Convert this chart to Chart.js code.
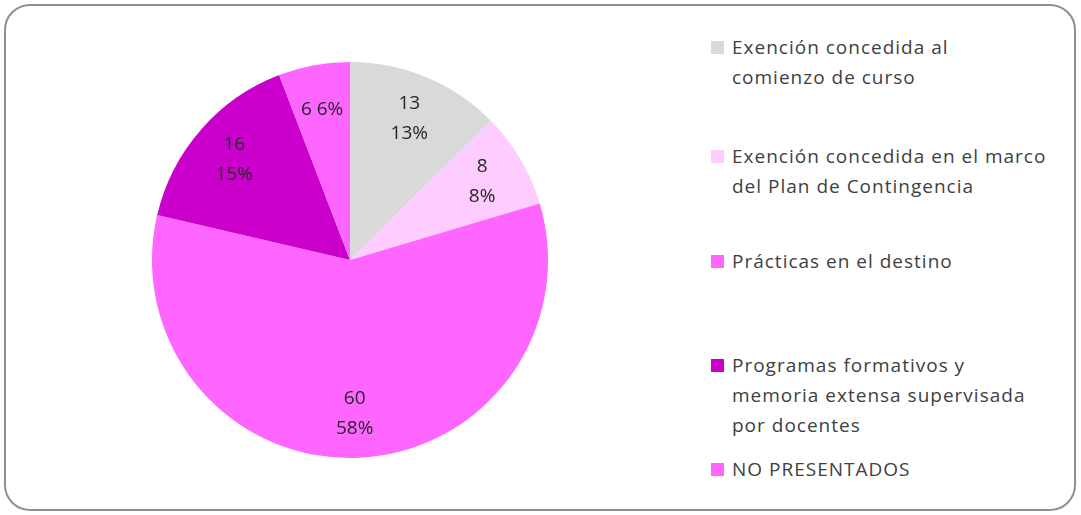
<!DOCTYPE html>
<html>
<head>
<meta charset="utf-8">
<script src="https://cdn.jsdelivr.net/npm/chart.js@4/dist/chart.umd.min.js"></script>
<style>
  html, body { margin: 0; padding: 0; background: #fff; }
  body { width: 1081px; height: 515px; position: relative; overflow: hidden; font-family: "Open Sans", "Liberation Sans", sans-serif; }
  .frame { position: absolute; left: 4px; top: 4px; width: 1072px; height: 507px; border: 2px solid #8f8f8f; border-radius: 26px; box-sizing: border-box; }
  .pie-wrap { position: absolute; left: 152px; top: 62px; width: 396px; height: 396px; }
  .legend { position: absolute; left: 711px; top: 0; }
  .legend-item { position: absolute; left: 0; white-space: nowrap; }
  .legend-item .sw { position: absolute; left: 0; width: 13px; height: 13px; }
  .legend-item .tx { position: absolute; left: 21px; font-size: 19px; line-height: 30px; color: #404040; letter-spacing: 1px; }
</style>
</head>
<body>
<div class="frame"></div>
<div class="pie-wrap"><canvas id="pieChart"></canvas></div>
<div class="legend" id="legend"></div>
<script>
const categories = [
  'Exención concedida al\ncomienzo de curso',
  'Exención concedida en el marco\ndel Plan de Contingencia',
  'Prácticas en el destino',
  'Programas formativos y\nmemoria extensa supervisada\npor docentes',
  'NO PRESENTADOS'
];
const values = [13, 8, 60, 16, 6];
const percentLabels = ['13%', '8%', '58%', '15%', '6%'];
const colors = ['#d9d9d9', '#ffccff', '#ff66ff', '#cc00cc', '#ff66ff'];
const legendTops = [32, 141, 246, 350, 454];

// value + percent inside each slice, at ~78% of the radius
const sliceLabels = {
  id: 'sliceLabels',
  afterDatasetsDraw(chart) {
    const ctx = chart.ctx;
    const meta = chart.getDatasetMeta(0);
    const total = values.reduce((a, b) => a + b, 0);
    ctx.save();
    ctx.font = '19px "Open Sans", "Liberation Sans", sans-serif';
    ctx.fillStyle = '#262626';
    ctx.textAlign = 'center';
    ctx.textBaseline = 'middle';
    meta.data.forEach((arc, i) => {
      const p = arc.getProps(['x', 'y', 'startAngle', 'endAngle', 'outerRadius'], true);
      const mid = (p.startAngle + p.endAngle) / 2;
      const r = p.outerRadius * 0.775;
      const x = p.x + Math.cos(mid) * r;
      const y = p.y + Math.sin(mid) * r;
      if (values[i] / total < 0.07) {
        ctx.fillText(values[i] + ' ' + percentLabels[i], x, y);
      } else {
        ctx.fillText(String(values[i]), x, y - 15);
        ctx.fillText(percentLabels[i], x, y + 15);
      }
    });
    ctx.restore();
  }
};

new Chart(document.getElementById('pieChart'), {
  type: 'pie',
  data: {
    labels: categories,
    datasets: [{ data: values, backgroundColor: colors, borderWidth: 0 }]
  },
  options: {
    responsive: true,
    maintainAspectRatio: false,
    animation: false,
    layout: { padding: 0 },
    plugins: { legend: { display: false }, tooltip: { enabled: false } }
  },
  plugins: [sliceLabels]
});

document.getElementById('legend').innerHTML = categories.map((c, i) => `
  <div class="legend-item" style="top:${legendTops[i]}px">
    <span class="sw" style="top:9px;background:${colors[i]}"></span>
    <span class="tx" style="top:0">${c.replace(/\n/g, '<br>')}</span>
  </div>`).join('');
</script>
</body>
</html>
